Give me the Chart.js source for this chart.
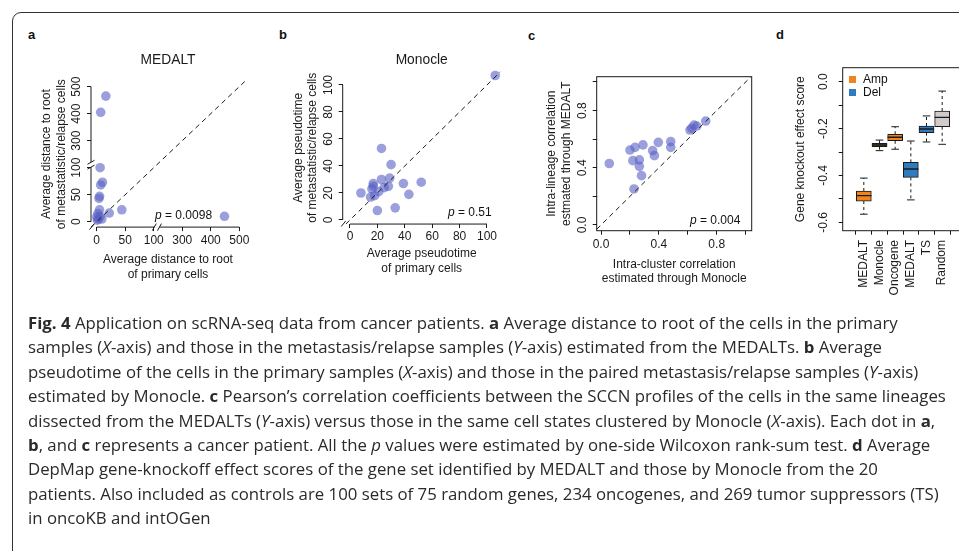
<!DOCTYPE html>
<html>
<head>
<meta charset="utf-8">
<script src="https://cdn.jsdelivr.net/npm/chart.js@4/dist/chart.umd.min.js"></script>
<style>
  html, body { margin: 0; padding: 0; background: #fff; width: 959px; height: 551px; overflow: hidden; }
  #frame { position: absolute; left: 12px; top: 12px; width: 1100px; height: 700px; border: 1.5px solid #333; border-radius: 9px; }
  canvas { position: absolute; }
  .pl { position: absolute; font: bold 13px "Liberation Sans", Arial, sans-serif; color: #111; line-height: 14px; }
  .pv { position: absolute; font: 12px "Liberation Sans", Arial, sans-serif; color: #111; line-height: 14px; white-space: nowrap; }
  .lg { position: absolute; font: 12px "Liberation Sans", Arial, sans-serif; color: #111; line-height: 14px; }
  .sw { position: absolute; width: 7px; height: 7px; }
  #cap { position: absolute; left: 28px; top: 311px; font: 16.8px "Open Sans", sans-serif; color: #2a2a2a; line-height: 24.4px; }
  #cap div { white-space: nowrap; }
</style>
</head>
<body>
<div id="frame"></div>

<div class="pl" style="left:28px;top:28px">a</div>
<div class="pl" style="left:279px;top:28px">b</div>
<div class="pl" style="left:528px;top:29px">c</div>
<div class="pl" style="left:776px;top:28px">d</div>

<canvas id="cA" width="240" height="250" style="left:20px;top:40px"></canvas>
<canvas id="cB" width="250" height="250" style="left:270px;top:40px"></canvas>
<canvas id="cC" width="240" height="250" style="left:530px;top:40px"></canvas>
<canvas id="cD" width="200" height="320" style="left:780px;top:40px"></canvas>

<div class="pv" style="left:155px;top:208px"><i>p</i> = 0.0098</div>
<div class="pv" style="left:448px;top:205px"><i>p</i> = 0.51</div>
<div class="pv" style="left:690px;top:213px"><i>p</i> = 0.004</div>

<div class="sw" style="left:849px;top:75.5px;background:#f0841c"></div>
<div class="lg" style="left:863px;top:72px">Amp</div>
<div class="sw" style="left:849px;top:88.5px;background:#2f7bbf"></div>
<div class="lg" style="left:863px;top:85px">Del</div>

<div id="cap">
  <div><b>Fig. 4</b> Application on scRNA-seq data from cancer patients. <b>a</b> Average distance to root of the cells in the primary</div>
  <div>samples (<i>X</i>-axis) and those in the metastasis/relapse samples (<i>Y</i>-axis) estimated from the MEDALTs. <b>b</b> Average</div>
  <div>pseudotime of the cells in the primary samples (<i>X</i>-axis) and those in the paired metastasis/relapse samples (<i>Y</i>-axis)</div>
  <div>estimated by Monocle. <b>c</b> Pearson’s correlation coefficients between the SCCN profiles of the cells in the same lineages</div>
  <div>dissected from the MEDALTs (<i>Y</i>-axis) versus those in the same cell states clustered by Monocle (<i>X</i>-axis). Each dot in <b>a</b>,</div>
  <div><b>b</b>, and <b>c</b> represents a cancer patient. All the <i>p</i> values were estimated by one-side Wilcoxon rank-sum test. <b>d</b> Average</div>
  <div>DepMap gene-knockoff effect scores of the gene set identified by MEDALT and those by Monocle from the 20</div>
  <div>patients. Also included as controls are 100 sets of 75 random genes, 234 oncogenes, and 269 tumor suppressors (TS)</div>
  <div>in oncoKB and intOGen</div>
</div>

<script>
// ── a: MEDALT 평균 root 거리 (primary vs metastasis/relapse), 축 끊김 100 | 200
const medaltPrimary = [16, 7, 6, 10, 7, 5, 4, 5, 44, 22, 2, 0, 3, 9, 6, 1, 448];
const medaltMeta    = [465, 405, 100, 73, 68, 47, 43, 22, 22, 16, 15, 9, 5, 5, 10, 3, 10];
const medaltTicks   = [0, 50, 100, 300, 400, 500];

// ── b: Monocle 평균 pseudotime
const monoPrimary = [106, 23, 30, 23, 29, 17, 17, 16, 39, 52, 28, 25, 8, 21, 43, 15, 18, 33, 20];
const monoMeta    = [107, 53, 41, 30, 31, 27, 25, 23, 27, 28, 25, 24, 20, 21, 19, 17, 18, 9, 7];
const monoTicks   = [0, 20, 40, 60, 80, 100];

// ── c: 상관계수 (Monocle cluster vs MEDALT lineage)
const corrMonocle = [0.057, 0.20, 0.235, 0.29, 0.22, 0.265, 0.265, 0.28, 0.228, 0.357, 0.369, 0.396, 0.482, 0.482, 0.615, 0.643, 0.662, 0.724, 0.627];
const corrMedalt  = [0.43, 0.524, 0.543, 0.56, 0.45, 0.455, 0.41, 0.345, 0.252, 0.52, 0.485, 0.578, 0.583, 0.543, 0.664, 0.699, 0.692, 0.727, 0.677];
const corrTicks   = [0, 0.2, 0.4, 0.6, 0.8, 1.0];

// ── d: gene knockout effect score boxplot
const koLabels  = ['MEDALT', 'Monocle', 'Oncogene', 'MEDALT', 'TS', 'Random'];
const koColors  = ['#f0841c', '#5d6f2e', '#f0841c', '#2f7bbf', '#2f7bbf', '#cfcbcb'];
const koLow     = [-0.565, -0.294, -0.288, -0.504, -0.257, -0.267];
const koQ1      = [-0.509, -0.277, -0.252, -0.408, -0.217, -0.192];
const koMedian  = [-0.486, -0.270, -0.237, -0.372, -0.202, -0.152];
const koQ3      = [-0.466, -0.263, -0.224, -0.344, -0.189, -0.125];
const koHigh    = [-0.411, -0.249, -0.192, -0.253, -0.146, -0.040];
const koTicks   = [-0.6, -0.5, -0.4, -0.3, -0.2, -0.1, 0];

const INK = '#1a1a1a';
const DOT = 'rgba(88,96,196,0.6)';
const FONT = '"Liberation Sans", Arial, Helvetica, sans-serif';

Chart.defaults.font.family = FONT;
Chart.defaults.font.size = 12;
Chart.defaults.color = INK;
Chart.defaults.animation = false;

// 축 끊김: 100 이하는 그대로, 200 이상은 절반 스케일로 이어붙임
const BRK_LO = 100, BRK_HI = 200;
const brk = v => v <= BRK_LO ? v : BRK_LO + (v - BRK_HI) / 2;

// R 스타일 축: 첫~마지막 눈금까지만 선, 끊김 표시, 박스
const rAxes = {
  id: 'rAxes',
  afterDraw(chart, args, o) {
    const { ctx, chartArea: ca, scales: { x, y } } = chart;
    ctx.save();
    ctx.strokeStyle = INK;
    ctx.lineWidth = 1;
    const seg = (x1, y1, x2, y2) => { ctx.beginPath(); ctx.moveTo(x1, y1); ctx.lineTo(x2, y2); ctx.stroke(); };
    if (o.box) ctx.strokeRect(ca.left, ca.top, ca.right - ca.left, ca.bottom - ca.top);
    (o.xSeg || []).forEach(([a, b]) => seg(x.getPixelForValue(a), ca.bottom, x.getPixelForValue(b), ca.bottom));
    (o.ySeg || []).forEach(([a, b]) => seg(ca.left, y.getPixelForValue(a), ca.left, y.getPixelForValue(b)));
    (o.xBreak || []).forEach(v => { const p = x.getPixelForValue(v); seg(p - 2, ca.bottom + 3.5, p + 2, ca.bottom - 3.5); });
    (o.yBreak || []).forEach(v => { const p = y.getPixelForValue(v); seg(ca.left - 3.5, p + 2, ca.left + 3.5, p - 2); });
    if (o.corner) seg(ca.left - 1.5, ca.bottom + 2.5, ca.left + 3, ca.bottom - 3);
    ctx.restore();
  }
};

function fixTicks(vals) { return s => { s.ticks = vals.map(v => ({ value: v })); }; }

function rScale(o) {
  return {
    type: 'linear',
    min: o.min, max: o.max,
    afterBuildTicks: fixTicks(o.ticks),
    afterFit: s => { if (s.isHorizontal()) s.height = o.size; else s.width = o.size; },
    grid: { drawOnChartArea: false, drawTicks: true, tickLength: 4, color: INK, lineWidth: 1 },
    border: { display: false },
    ticks: {
      autoSkip: false, color: INK, padding: o.pad,
      minRotation: o.rot || 0, maxRotation: o.rot || 0,
      crossAlign: o.cross || 'near',
      callback: (v, i) => o.labels[i],
    },
    title: {
      display: !!o.title, text: o.title, color: INK,
      padding: o.tpad || 0, font: { size: 12, lineHeight: '14.5px' },
    },
  };
}

const dotSet = (xs, ys, map) => ({
  type: 'scatter', order: 1, clip: false,
  data: xs.map((v, i) => ({ x: map(v), y: map(ys[i]) })),
  backgroundColor: DOT, borderWidth: 0, pointRadius: 4.8,
});
const diagSet = (lo, hi) => ({
  type: 'line', order: 0,
  data: [{ x: lo, y: lo }, { x: hi, y: hi }],
  borderColor: INK, borderWidth: 1, borderDash: [5, 4], pointRadius: 0,
});

const noLegend = { legend: { display: false }, tooltip: { enabled: false } };
const panelTitle = (text, top, bottom) => ({
  display: true, text, fullSize: false, color: INK,
  font: { size: 13.8, weight: 'normal', lineHeight: 1.2 }, padding: { top, bottom },
});

// ── a
new Chart(document.getElementById('cA'), {
  type: 'scatter',
  data: { datasets: [dotSet(medaltPrimary, medaltMeta, brk), diagSet(-10, 260)] },
  options: {
    responsive: false,
    layout: { padding: { left: 0, top: 0, right: 15, bottom: 8.25 } },
    plugins: {
      ...noLegend,
      title: panelTitle('MEDALT', 11.7, 13.0),
      rAxes: { xSeg: [[0, 101], [110, 250]], ySeg: [[0, 101], [110, 250]], xBreak: [101, 110], yBreak: [101, 110], corner: true },
    },
    scales: {
      x: rScale({ min: -10, max: 260, ticks: medaltTicks.map(brk), labels: medaltTicks.map(String), size: 54.65, pad: 2.4,
                  title: ['Average distance to root', 'of primary cells'] }),
      y: rScale({ min: -10, max: 260, ticks: medaltTicks.map(brk), labels: medaltTicks.map(String), size: 71, pad: 0, rot: 90, cross: 'center',
                  title: ['Average distance to root', 'of metastatistic/relapse cells'], tpad: { top: 19.45, bottom: 0 } }),
    },
  },
  plugins: [rAxes],
});

// ── b
const id = v => v;
new Chart(document.getElementById('cB'), {
  type: 'scatter',
  data: { datasets: [dotSet(monoPrimary, monoMeta, id), diagSet(-3, 110)] },
  options: {
    responsive: false,
    layout: { padding: { left: 0, top: 0, right: 19.3, bottom: 14.25 } },
    plugins: {
      ...noLegend,
      title: panelTitle('Monocle', 11.7, 3.2),
      rAxes: { xSeg: [[0, 100]], ySeg: [[0, 100]], corner: true },
    },
    scales: {
      x: rScale({ min: -5.3, max: 110, ticks: monoTicks, labels: monoTicks.map(String), size: 51.7, pad: 1.45,
                  title: ['Average pseudotime', 'of primary cells'] }),
      y: rScale({ min: -3, max: 110, ticks: monoTicks, labels: monoTicks.map(String), size: 72.7, pad: 0, rot: 90, cross: 'center',
                  title: ['Average pseudotime', 'of metastatistic/relapse cells'], tpad: { top: 21.05, bottom: 0 } }),
    },
  },
  plugins: [rAxes],
});

// ── c
const corrLbl = corrTicks.map((v, i) => i % 2 ? '' : v.toFixed(1));
new Chart(document.getElementById('cC'), {
  type: 'scatter',
  data: { datasets: [dotSet(corrMonocle, corrMedalt, id), diagSet(-0.03, 1.037)] },
  options: {
    responsive: false,
    layout: { padding: { left: 0, top: 36.7, right: 18.3, bottom: 3.95 } },
    plugins: { ...noLegend, rAxes: { box: true } },
    scales: {
      x: rScale({ min: -0.03, max: 1.042, ticks: corrTicks, labels: corrLbl, size: 55.35, pad: 3,
                  title: ['Intra-cluster correlation', 'estimated through Monocle'] }),
      y: rScale({ min: -0.04, max: 1.037, ticks: corrTicks, labels: corrLbl, size: 66.7, pad: 1.4, rot: 90, cross: 'center',
                  title: ['Intra-lineage correlation', 'estmated through MEDALT'], tpad: { top: 14.45, bottom: 0 } }),
    },
  },
  plugins: [rAxes],
});

// ── d
const pos = koLabels.map((_, i) => i + 1);
const whisk = [];
pos.forEach((p, i) => {
  whisk.push({ x: p, y: koQ3[i] }, { x: p, y: koHigh[i] }, { x: p, y: null });
  whisk.push({ x: p, y: koQ1[i] }, { x: p, y: koLow[i] }, { x: p, y: null });
});
const koLbl = koTicks.map(v => (Math.round(v * 10) % 2) ? '' : (v === 0 ? '0.0' : v.toFixed(1)));
new Chart(document.getElementById('cD'), {
  type: 'bar',
  data: {
    datasets: [
      { type: 'line', order: 0, showLine: false, data: pos.map((p, i) => ({ x: p, y: koMedian[i] })),
        pointStyle: 'line', pointRadius: 7.6, pointBorderWidth: 1.4, pointBorderColor: INK },
      { type: 'line', order: 1, showLine: false,
        data: pos.flatMap((p, i) => [{ x: p, y: koLow[i] }, { x: p, y: koHigh[i] }]),
        pointStyle: 'line', pointRadius: 3.8, pointBorderWidth: 1, pointBorderColor: INK },
      { type: 'line', order: 2, data: whisk, spanGaps: false, borderColor: INK, borderWidth: 1, borderDash: [3, 3], pointRadius: 0 },
      { type: 'bar', order: 3, data: pos.map((p, i) => ({ x: p, y: [koQ1[i], koQ3[i]] })),
        backgroundColor: koColors, borderColor: INK, borderWidth: 1, borderSkipped: false, barThickness: 15 },
    ],
  },
  options: {
    responsive: false,
    layout: { padding: { left: 0, top: 27.7, right: 16.7, bottom: 49.3 } },
    plugins: { ...noLegend, rAxes: { box: true } },
    scales: {
      x: rScale({ min: 0.293, max: 6.707, ticks: pos, labels: koLabels, size: 80, pad: 5.3, rot: 90 }),
      y: rScale({ min: -0.6354, max: 0.0597, ticks: koTicks, labels: koLbl, size: 62.7, pad: 5.1, rot: 90, cross: 'center',
                  title: 'Gene knockout effect score', tpad: { top: 13.45, bottom: 0 } }),
    },
  },
  plugins: [rAxes],
});
</script>
</body>
</html>
